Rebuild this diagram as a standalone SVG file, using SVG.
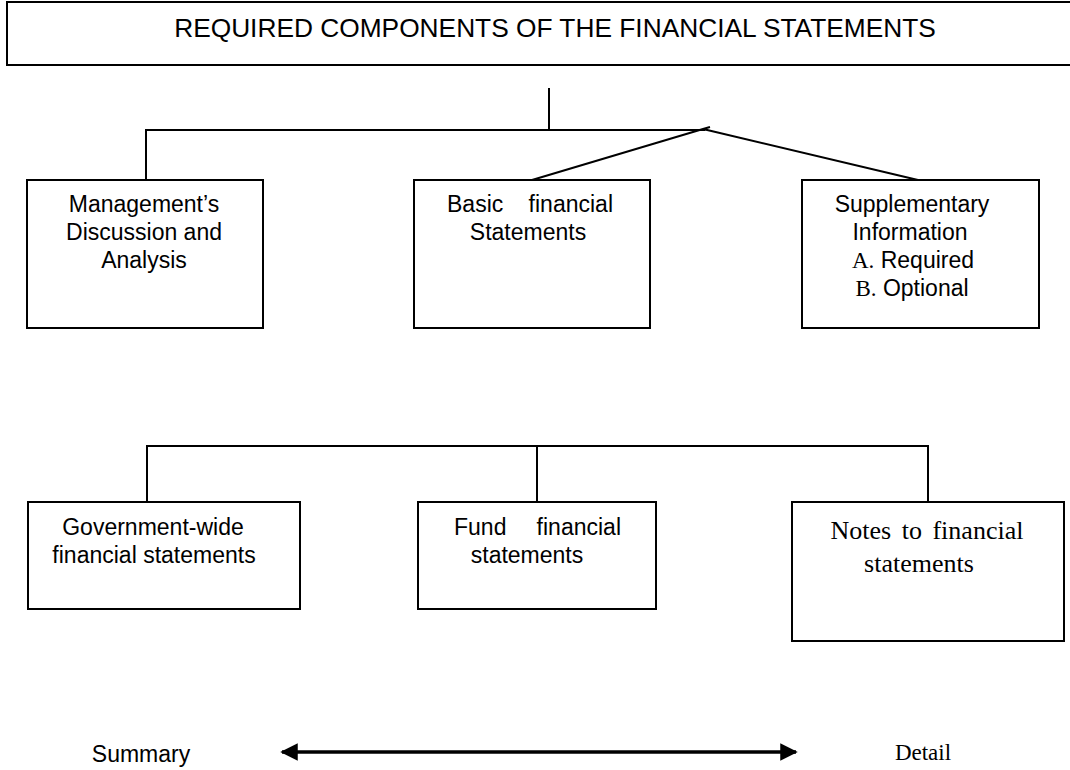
<svg xmlns="http://www.w3.org/2000/svg" width="1070" height="770" viewBox="0 0 1070 770">
<style>
.box{fill:#fff;stroke:#000;stroke-width:2}
.ln{fill:none;stroke:#000;stroke-width:2}
.t{font-family:"Liberation Sans",Arial,sans-serif;font-size:23px;fill:#000;text-anchor:middle}
.s{font-family:"Liberation Serif","Times New Roman",serif}
</style>
<defs>
<marker id="ah" markerWidth="5" markerHeight="5" refX="4.5" refY="2.5" orient="auto-start-reverse" markerUnits="strokeWidth">
<path d="M0,0 L5,2.5 L0,5 Z" fill="#000"/>
</marker>
</defs>
<rect width="1070" height="770" fill="#fff"/>
<g id="title">
<rect class="box" x="7" y="2" width="1075" height="63"/>
<text class="t" x="555" y="37" style="font-size:26.3px">REQUIRED COMPONENTS OF THE FINANCIAL STATEMENTS</text>
</g>
<g id="connectors">
<path class="ln" d="M549,88 V130 M146,180 V130 H705 M703,129 L532,180 M703,129 L918,180 M703,129 L710,127"/>
<path class="ln" d="M147,502 V446 H928 V502 M537,446 V502"/>
<line x1="282" y1="752" x2="796" y2="752" stroke="#000" stroke-width="3.5" marker-start="url(#ah)" marker-end="url(#ah)"/>
</g>
<g id="mda">
<rect class="box" x="27" y="180" width="236" height="148"/>
<text class="t"><tspan x="144" y="212">Management’s</tspan><tspan x="144" y="240">Discussion and</tspan><tspan x="144" y="268">Analysis</tspan></text>
</g>
<g id="basic">
<rect class="box" x="414" y="180" width="236" height="148"/>
<text class="t"><tspan x="447" y="212" style="text-anchor:start">Basic</tspan><tspan x="613" y="212" style="text-anchor:end">financial</tspan><tspan x="528" y="240">Statements</tspan></text>
</g>
<g id="supp">
<rect class="box" x="802" y="180" width="237" height="148"/>
<text class="t"><tspan x="912" y="212">Supplementary</tspan><tspan x="910" y="240">Information</tspan><tspan x="913" y="268"><tspan class="s">A.</tspan> Required</tspan><tspan x="912" y="296"><tspan class="s">B.</tspan> Optional</tspan></text>
</g>
<g id="govwide">
<rect class="box" x="28" y="502" width="272" height="107"/>
<text class="t"><tspan x="153" y="535">Government-wide</tspan><tspan x="154" y="563">financial statements</tspan></text>
</g>
<g id="fund">
<rect class="box" x="418" y="502" width="238" height="107"/>
<text class="t"><tspan x="454" y="535" style="text-anchor:start">Fund</tspan><tspan x="621" y="535" style="text-anchor:end">financial</tspan><tspan x="527" y="563">statements</tspan></text>
</g>
<g id="notes">
<rect class="box" x="792" y="502" width="272" height="139"/>
<text class="t s" style="font-size:26px"><tspan x="927" y="539" word-spacing="4">Notes to financial</tspan><tspan x="919" y="572">statements</tspan></text>
</g>
<g id="scale">
<text class="t" x="141" y="762">Summary</text>
<text class="t s" x="923" y="760">Detail</text>
</g>
</svg>
